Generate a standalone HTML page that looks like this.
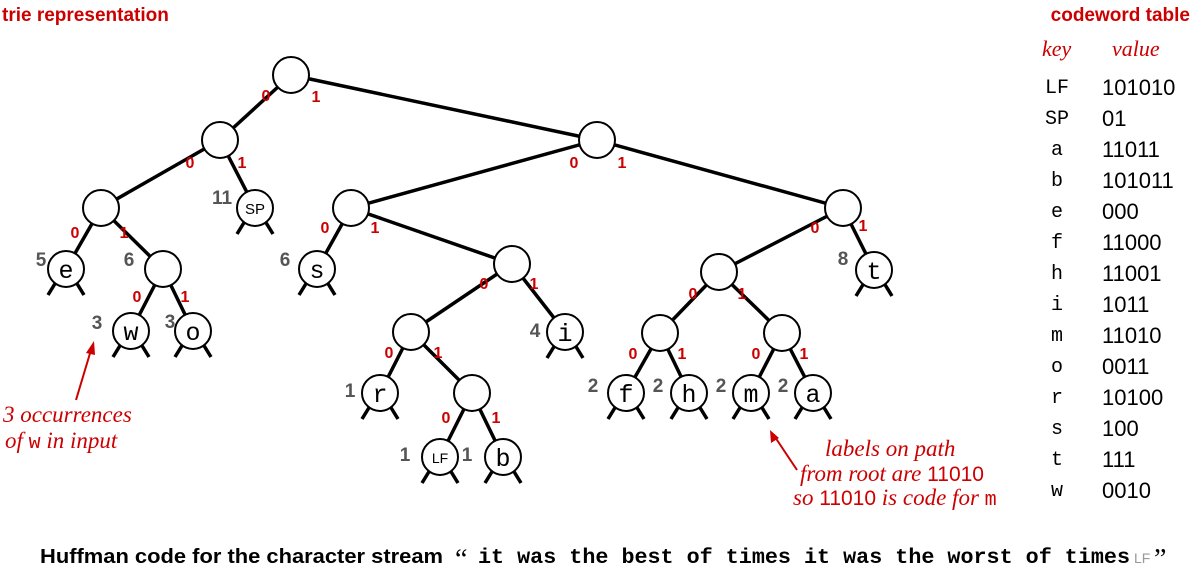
<!DOCTYPE html>
<html><head><meta charset="utf-8"><style>
html,body{margin:0;padding:0;background:#fff;}
svg{display:block;}
.e{stroke:#000;stroke-width:3.5;}
.n{fill:#fff;stroke:#000;stroke-width:2;}
.lb{font-family:"Liberation Sans",sans-serif;font-weight:bold;font-size:16px;fill:#c00;text-anchor:middle;}
.ct{font-family:"Liberation Sans",sans-serif;font-weight:bold;font-size:19px;fill:#555;text-anchor:middle;}
.ch{font-family:"Liberation Mono",monospace;font-size:25px;text-anchor:middle;}
.an{font-family:"Liberation Serif",serif;font-style:italic;font-size:23px;fill:#c00;}
.k{font-family:"Liberation Mono",monospace;font-size:20px;text-anchor:middle;}
.v{font-family:"Liberation Sans",sans-serif;font-size:22px;}
</style></head><body>
<svg width="1200" height="571" viewBox="0 0 1200 571" xmlns="http://www.w3.org/2000/svg">
<text x="2" y="21" font-family="Liberation Sans,sans-serif" font-weight="bold" font-size="19" fill="#c00">trie representation</text>
<text x="1190" y="21" text-anchor="end" font-family="Liberation Sans,sans-serif" font-weight="bold" font-size="19" fill="#c00">codeword table</text>
<g>
<line class="e" x1="291" y1="75" x2="220" y2="140"/><line class="e" x1="291" y1="75" x2="597" y2="140"/>
<line class="e" x1="220" y1="140" x2="101" y2="208"/><line class="e" x1="220" y1="140" x2="255" y2="208"/>
<line class="e" x1="101" y1="208" x2="66" y2="269"/><line class="e" x1="101" y1="208" x2="163" y2="269"/>
<line class="e" x1="163" y1="269" x2="131" y2="331"/><line class="e" x1="163" y1="269" x2="193" y2="331"/>
<line class="e" x1="597" y1="140" x2="351" y2="208"/><line class="e" x1="597" y1="140" x2="843" y2="208"/>
<line class="e" x1="351" y1="208" x2="317" y2="269"/><line class="e" x1="351" y1="208" x2="512" y2="264"/>
<line class="e" x1="512" y1="264" x2="411" y2="332"/><line class="e" x1="512" y1="264" x2="565" y2="332"/>
<line class="e" x1="411" y1="332" x2="380" y2="393"/><line class="e" x1="411" y1="332" x2="472" y2="393"/>
<line class="e" x1="472" y1="393" x2="440" y2="457"/><line class="e" x1="472" y1="393" x2="503" y2="457"/>
<line class="e" x1="843" y1="208" x2="719" y2="272"/><line class="e" x1="843" y1="208" x2="874" y2="270"/>
<line class="e" x1="719" y1="272" x2="660" y2="333"/><line class="e" x1="719" y1="272" x2="782" y2="333"/>
<line class="e" x1="660" y1="333" x2="626" y2="393"/><line class="e" x1="660" y1="333" x2="689" y2="393"/>
<line class="e" x1="782" y1="333" x2="751" y2="393"/><line class="e" x1="782" y1="333" x2="813" y2="393"/>
</g>
<g stroke="#000" stroke-width="3.5">
<path d="M245 221 l-8 13 M265 221 l8 13 M56 282 l-8 13 M76 282 l8 13 M121 344 l-8 13 M141 344 l8 13 M183 344 l-8 13 M203 344 l8 13 M307 282 l-8 13 M327 282 l8 13 M555 345 l-8 13 M575 345 l8 13 M370 406 l-8 13 M390 406 l8 13 M430 470 l-8 13 M450 470 l8 13 M493 470 l-8 13 M513 470 l8 13 M864 283 l-8 13 M884 283 l8 13 M616 406 l-8 13 M636 406 l8 13 M679 406 l-8 13 M699 406 l8 13 M741 406 l-8 13 M761 406 l8 13 M803 406 l-8 13 M823 406 l8 13"/>
</g>
<g>
<circle class="n" cx="291" cy="75" r="18"/><circle class="n" cx="220" cy="140" r="18"/><circle class="n" cx="597" cy="140" r="18"/>
<circle class="n" cx="101" cy="208" r="18"/><circle class="n" cx="255" cy="208" r="18"/><circle class="n" cx="66" cy="269" r="18"/>
<circle class="n" cx="163" cy="269" r="18"/><circle class="n" cx="131" cy="331" r="18"/><circle class="n" cx="193" cy="331" r="18"/>
<circle class="n" cx="351" cy="208" r="18"/><circle class="n" cx="843" cy="208" r="18"/><circle class="n" cx="317" cy="269" r="18"/>
<circle class="n" cx="512" cy="264" r="18"/><circle class="n" cx="411" cy="332" r="18"/><circle class="n" cx="565" cy="332" r="18"/>
<circle class="n" cx="380" cy="393" r="18"/><circle class="n" cx="472" cy="393" r="18"/><circle class="n" cx="440" cy="457" r="18"/>
<circle class="n" cx="503" cy="457" r="18"/><circle class="n" cx="719" cy="272" r="18"/><circle class="n" cx="874" cy="270" r="18"/>
<circle class="n" cx="660" cy="333" r="18"/><circle class="n" cx="782" cy="333" r="18"/><circle class="n" cx="626" cy="393" r="18"/>
<circle class="n" cx="689" cy="393" r="18"/><circle class="n" cx="751" cy="393" r="18"/><circle class="n" cx="813" cy="393" r="18"/>
</g>
<g>
<text class="ch" x="66" y="278">e</text><text class="ch" x="131" y="340" font-size="22">w</text><text class="ch" x="193" y="340">o</text>
<text x="255" y="214" text-anchor="middle" font-family="Liberation Sans,sans-serif" font-size="15">SP</text>
<text class="ch" x="317" y="278">s</text><text class="ch" x="565" y="341">i</text><text class="ch" x="380" y="402">r</text>
<text x="440" y="463" text-anchor="middle" font-family="Liberation Sans,sans-serif" font-size="14">LF</text>
<text class="ch" x="503" y="466">b</text><text class="ch" x="874" y="279">t</text><text class="ch" x="626" y="402">f</text>
<text class="ch" x="689" y="402">h</text><text class="ch" x="751" y="402" font-size="22">m</text><text class="ch" x="813" y="402">a</text>
</g>
<g>
<text class="lb" x="266" y="101">0</text><text class="lb" x="316" y="102">1</text>
<text class="lb" x="190" y="168">0</text><text class="lb" x="242" y="168">1</text>
<text class="lb" x="574" y="168">0</text><text class="lb" x="622" y="168">1</text>
<text class="lb" x="75" y="238">0</text><text class="lb" x="124" y="238">1</text>
<text class="lb" x="137" y="302">0</text><text class="lb" x="185" y="302">1</text>
<text class="lb" x="325" y="233">0</text><text class="lb" x="375" y="233">1</text>
<text class="lb" x="484" y="289">0</text><text class="lb" x="534" y="289">1</text>
<text class="lb" x="389" y="358">0</text><text class="lb" x="438" y="358">1</text>
<text class="lb" x="446" y="423">0</text><text class="lb" x="496" y="423">1</text>
<text class="lb" x="815" y="233">0</text><text class="lb" x="863" y="231">1</text>
<text class="lb" x="693" y="299">0</text><text class="lb" x="742" y="299">1</text>
<text class="lb" x="633" y="359">0</text><text class="lb" x="682" y="359">1</text>
<text class="lb" x="756" y="359">0</text><text class="lb" x="804" y="359">1</text>
</g>
<g>
<text class="ct" x="41" y="266">5</text><text class="ct" x="129" y="266">6</text><text class="ct" x="97" y="329">3</text>
<text class="ct" x="170" y="328">3</text><text class="ct" x="222" y="204">11</text><text class="ct" x="285" y="266">6</text>
<text class="ct" x="535" y="337">4</text><text class="ct" x="350" y="397">1</text><text class="ct" x="405" y="461">1</text>
<text class="ct" x="467" y="461">1</text><text class="ct" x="593" y="392">2</text><text class="ct" x="658" y="392">2</text>
<text class="ct" x="721" y="392">2</text><text class="ct" x="783" y="392">2</text><text class="ct" x="843" y="265">8</text>
</g>
<g stroke="#c00" stroke-width="2" fill="#c00">
<line x1="76" y1="400" x2="91" y2="350"/><polygon points="94,341 86,353 95,355" stroke="none"/>
<line x1="797" y1="470" x2="775" y2="437"/><polygon points="770,430 771,443 779,438" stroke="none"/>
</g>
<text class="an" x="3" y="422">3 occurrences</text>
<text class="an" x="5" y="448">of <tspan font-family="Liberation Mono,monospace" font-style="normal" font-size="20">w</tspan> in input</text>
<text class="an" x="825" y="456">labels on path</text>
<text class="an" x="800" y="481">from root are <tspan font-family="Liberation Sans,sans-serif" font-style="normal" font-size="21">11010</tspan></text>
<text class="an" x="793" y="505">so <tspan font-family="Liberation Sans,sans-serif" font-style="normal" font-size="21">11010</tspan> is code for <tspan font-family="Liberation Mono,monospace" font-style="normal" font-size="20">m</tspan></text>
<text x="1042" y="56" font-family="Liberation Serif,serif" font-style="italic" font-size="22" fill="#c00">key</text>
<text x="1112" y="56" font-family="Liberation Serif,serif" font-style="italic" font-size="22" fill="#c00">value</text>
<g>
<text class="k" x="1057" y="93">LF</text><text class="v" x="1102" y="95">101010</text>
<text class="k" x="1057" y="124">SP</text><text class="v" x="1102" y="126">01</text>
<text class="k" x="1057" y="155">a</text><text class="v" x="1102" y="157">11011</text>
<text class="k" x="1057" y="186">b</text><text class="v" x="1102" y="188">101011</text>
<text class="k" x="1057" y="217">e</text><text class="v" x="1102" y="219">000</text>
<text class="k" x="1057" y="248">f</text><text class="v" x="1102" y="250">11000</text>
<text class="k" x="1057" y="279">h</text><text class="v" x="1102" y="281">11001</text>
<text class="k" x="1057" y="310">i</text><text class="v" x="1102" y="312">1011</text>
<text class="k" x="1057" y="341">m</text><text class="v" x="1102" y="343">11010</text>
<text class="k" x="1057" y="372">o</text><text class="v" x="1102" y="374">0011</text>
<text class="k" x="1057" y="403">r</text><text class="v" x="1102" y="405">10100</text>
<text class="k" x="1057" y="434">s</text><text class="v" x="1102" y="436">100</text>
<text class="k" x="1057" y="465">t</text><text class="v" x="1102" y="467">111</text>
<text class="k" x="1057" y="496">w</text><text class="v" x="1102" y="498">0010</text>
</g>
<text x="40" y="563" font-family="Liberation Sans,sans-serif" font-weight="bold" font-size="20" textLength="403" lengthAdjust="spacingAndGlyphs">Huffman code for the character stream</text>
<text x="455" y="568" font-family="Liberation Serif,serif" font-size="28">“</text>
<text x="478" y="563" font-family="Liberation Mono,monospace" font-weight="bold" font-size="21" textLength="652" lengthAdjust="spacingAndGlyphs">it was the best of times it was the worst of times</text>
<text x="1134" y="563" font-family="Liberation Sans,sans-serif" font-size="14" fill="#999">LF</text>
<text x="1154" y="568" font-family="Liberation Serif,serif" font-size="28">”</text>
</svg>
</body></html>
